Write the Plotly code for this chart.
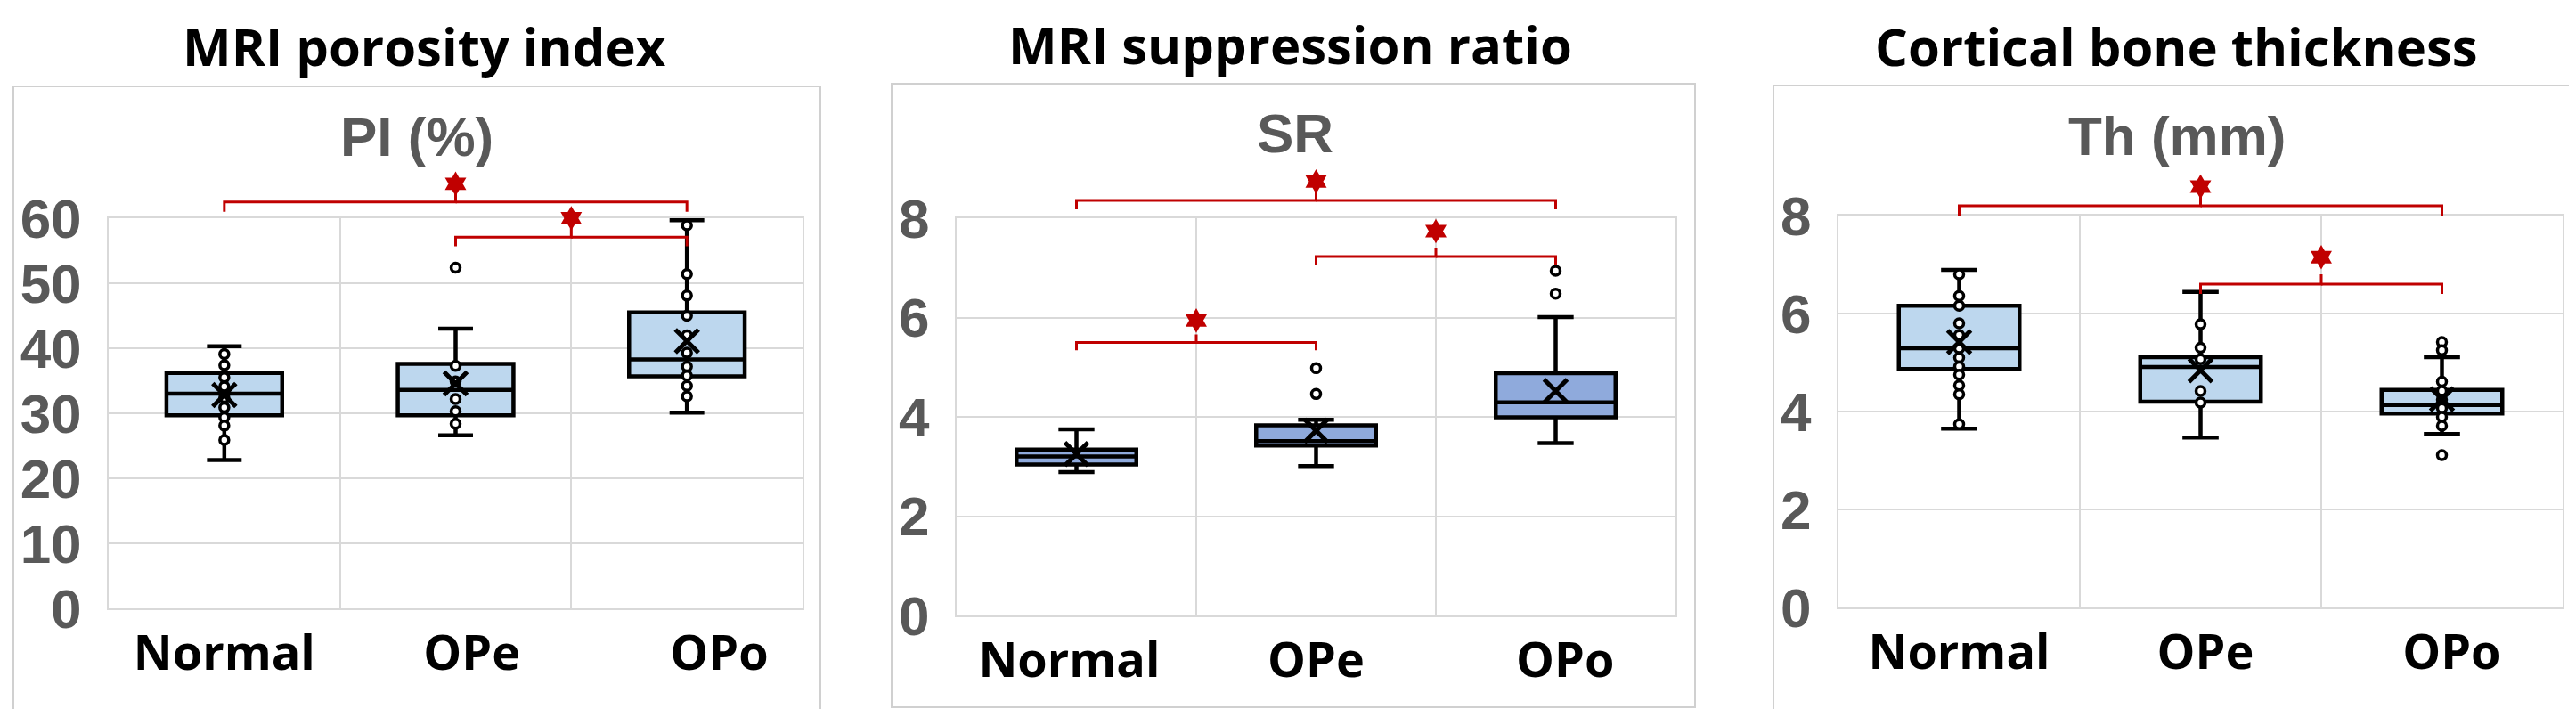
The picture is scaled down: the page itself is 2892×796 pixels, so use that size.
import plotly.graph_objects as go

W, H = 2892, 796

categories = ["Normal", "OPe", "OPo"]
titles = ["MRI porosity index", "MRI suppression ratio", "Cortical bone thickness"]
subtitles = ["PI (%)", "SR", "Th (mm)"]

# ---------------- Panel 1 : PI (%) ----------------
pi_ticks = [0, 10, 20, 30, 40, 50, 60]
pi_low = [22.8, 26.6, 30.1]
pi_q1 = [29.7, 29.7, 35.7]
pi_median = [33.0, 33.6, 38.3]
pi_q3 = [36.2, 37.6, 45.5]
pi_high = [40.3, 43.0, 59.7]
pi_mean = [32.8, 34.6, 41.1]
pi_points_normal = [39.1, 37.4, 35.5, 34.1, 32.4, 30.9, 29.4, 28.1, 25.9]
pi_points_ope = [52.4, 37.3, 34.9, 32.2, 30.3, 28.4]
pi_points_opo = [58.9, 51.4, 48.1, 45.0, 42.0, 39.3, 37.2, 35.8, 34.2, 32.6]
pi_bracket_from = [0, 1]
pi_bracket_to = [2, 2]
pi_bracket_y = [62.5, 57.1]
pi_bracket_drop = [1.5, 1.4]
pi_star_y = [65.3, 60.0]

# ---------------- Panel 2 : SR ----------------
sr_ticks = [0, 2, 4, 6, 8]
sr_low = [2.89, 3.01, 3.47]
sr_q1 = [3.04, 3.42, 3.99]
sr_median = [3.20, 3.51, 4.29]
sr_q3 = [3.34, 3.83, 4.88]
sr_high = [3.75, 3.94, 6.01]
sr_mean = [3.25, 3.72, 4.52]
sr_points_normal = []
sr_points_ope = [4.98, 4.46]
sr_points_opo = [6.94, 6.48]
sr_bracket_from = [0, 1, 0]
sr_bracket_to = [2, 2, 1]
sr_bracket_y = [8.36, 7.23, 5.50]
sr_bracket_drop = [0.18, 0.18, 0.16]
sr_star_y = [8.74, 7.74, 5.94]

# ---------------- Panel 3 : Th (mm) ----------------
th_ticks = [0, 2, 4, 6, 8]
th_low = [3.65, 3.47, 3.54]
th_q1 = [4.87, 4.20, 3.96]
th_median = [5.29, 4.91, 4.13]
th_q3 = [6.16, 5.11, 4.44]
th_high = [6.89, 6.44, 5.11]
th_mean = [5.42, 4.84, 4.25]
th_points_normal = [6.80, 6.36, 6.16, 5.80, 5.56, 5.29, 5.10, 4.92, 4.75, 4.53, 4.35, 3.74]
th_points_ope = [5.78, 5.30, 5.07, 4.42, 4.18]
th_points_opo = [5.42, 5.25, 4.61, 4.42, 4.24, 4.07, 3.89, 3.71, 3.11]
th_bracket_from = [0, 1]
th_bracket_to = [2, 2]
th_bracket_y = [8.20, 6.60]
th_bracket_drop = [0.2, 0.2]
th_star_y = [8.59, 7.15]

panels = [
    dict(ticks=pi_ticks, low=pi_low, q1=pi_q1, med=pi_median, q3=pi_q3, high=pi_high, mean=pi_mean,
         pts=[pi_points_normal, pi_points_ope, pi_points_opo],
         bf=pi_bracket_from, bt=pi_bracket_to, by=pi_bracket_y, bd=pi_bracket_drop, sy=pi_star_y),
    dict(ticks=sr_ticks, low=sr_low, q1=sr_q1, med=sr_median, q3=sr_q3, high=sr_high, mean=sr_mean,
         pts=[sr_points_normal, sr_points_ope, sr_points_opo],
         bf=sr_bracket_from, bt=sr_bracket_to, by=sr_bracket_y, bd=sr_bracket_drop, sy=sr_star_y),
    dict(ticks=th_ticks, low=th_low, q1=th_q1, med=th_median, q3=th_q3, high=th_high, mean=th_mean,
         pts=[th_points_normal, th_points_ope, th_points_opo],
         bf=th_bracket_from, bt=th_bracket_to, by=th_bracket_y, bd=th_bracket_drop, sy=th_star_y),
]

# ---------------- layout geometry (pixels) ----------------
plot_px = [(114, 893, 237, 675), (1066, 1873, 237, 683), (2056, 2869, 234, 674)]
frame_px = [(7, 89, 913, 793), (993, 86, 1895, 786), (1983, 88, 2889, 791)]
title_px = [(468, 2), (1440, 0), (2435, 2)]
subtitle_px = [(460, 146), (1446, 142), (2436, 144)]
label_pos = [[0, 1.07, 2.14], [-0.03, 1.0, 2.04], [0, 1.02, 2.04]]
box_fill = ["#BDD7EE", "#8FAADC", "#BDD7EE"]
overlay_top_px = 150

RED = "#C00000"
GRID = "#D9D9D9"
TICK_GRAY = "#595959"

fig = go.Figure()
layout = dict(
    width=W, height=H, template="none", showlegend=False,
    margin=dict(l=0, r=0, t=0, b=0),
    paper_bgcolor="white", plot_bgcolor="rgba(0,0,0,0)",
    shapes=[], annotations=[],
)

for i, p in enumerate(panels):
    x0, x1, ytop, ybot = plot_px[i]
    dx = [x0 / W, x1 / W]
    dy = [1 - ybot / H, 1 - ytop / H]
    ymax = p["ticks"][-1]
    n = i + 1
    m = i + 4
    xa, ya = ("x" if n == 1 else f"x{n}"), ("y" if n == 1 else f"y{n}")
    xo, yo = f"x{m}", f"y{m}"

    layout[f"xaxis{'' if n == 1 else n}"] = dict(
        domain=dx, range=[-0.5, 2.5], anchor=ya,
        tickmode="array", tickvals=label_pos[i], ticktext=categories,
        showgrid=False, zeroline=False, ticks="",
        showline=True, mirror=True, linecolor=GRID, linewidth=2,
        tickfont=dict(family="Open Sans", size=54, color="black", weight="bold"),
        ticklabelstandoff=2,
        minor=dict(tickmode="array", tickvals=[0.5, 1.5], showgrid=True,
                   gridcolor=GRID, gridwidth=2, ticks=""),
        fixedrange=True,
    )
    layout[f"yaxis{'' if n == 1 else n}"] = dict(
        domain=dy, range=[0, ymax], anchor=xa,
        tickmode="array", tickvals=p["ticks"],
        showgrid=True, gridcolor=GRID, gridwidth=2, zeroline=False, ticks="",
        showline=True, mirror=True, linecolor=GRID, linewidth=2,
        tickfont=dict(family="Liberation Sans", size=62, color=TICK_GRAY, weight="bold"),
        ticklabelstandoff=16,
        fixedrange=True,
    )
    # overlay axes for significance brackets (extend above the plot area, same scale)
    dtop = 1 - overlay_top_px / H
    orange = ymax * (dtop - dy[0]) / (dy[1] - dy[0])
    layout[f"xaxis{m}"] = dict(domain=dx, range=[-0.5, 2.5], anchor=yo, visible=False, fixedrange=True)
    layout[f"yaxis{m}"] = dict(domain=[dy[0], dtop], range=[0, orange], anchor=xo, visible=False, fixedrange=True)

    # boxes
    fig.add_trace(go.Box(
        x=[0, 1, 2], q1=p["q1"], median=p["med"], q3=p["q3"],
        lowerfence=p["low"], upperfence=p["high"],
        width=0.5, whiskerwidth=0.3, boxpoints=False,
        fillcolor=box_fill[i], line=dict(color="black", width=4.5),
        xaxis=xa, yaxis=ya, hoverinfo="skip",
    ))
    # data points
    px_, py_ = [], []
    for c, vals in enumerate(p["pts"]):
        px_ += [c] * len(vals)
        py_ += vals
    if py_:
        fig.add_trace(go.Scatter(
            x=px_, y=py_, mode="markers", xaxis=xa, yaxis=ya,
            marker=dict(symbol="circle", size=10, color="white", line=dict(color="black", width=3.5)),
            hoverinfo="skip",
        ))
    # mean markers
    fig.add_trace(go.Scatter(
        x=[0, 1, 2], y=p["mean"], mode="markers", xaxis=xa, yaxis=ya,
        marker=dict(symbol="x-thin", size=26, color="black", line=dict(color="black", width=5)),
        hoverinfo="skip",
    ))
    # brackets
    for a, b, yb, d, ys in zip(p["bf"], p["bt"], p["by"], p["bd"], p["sy"]):
        mid = (a + b) / 2
        fig.add_trace(go.Scatter(
            x=[a, a, mid, mid, None, mid, b, b],
            y=[yb - d, yb, yb, yb + d, None, yb, yb, yb - d],
            mode="lines", line=dict(color=RED, width=3),
            xaxis=xo, yaxis=yo, hoverinfo="skip", cliponaxis=False,
        ))
        fig.add_trace(go.Scatter(
            x=[mid], y=[ys], mode="markers", xaxis=xo, yaxis=yo,
            marker=dict(symbol="hexagram", size=21, color=RED),
            hoverinfo="skip", cliponaxis=False,
        ))

    # frame
    fx0, fy0, fx1, fy1 = frame_px[i]
    layout["shapes"].append(dict(type="rect", xref="paper", yref="paper",
                                 x0=fx0 / W, x1=fx1 / W, y0=1 - fy1 / H, y1=1 - fy0 / H,
                                 line=dict(color="#D0D0D0", width=2), layer="below"))
    # titles
    tx, ty = title_px[i]
    layout["annotations"].append(dict(text=titles[i], xref="paper", yref="paper",
                                      x=tx / W, y=1 - ty / H, xanchor="center", yanchor="top",
                                      showarrow=False,
                                      font=dict(family="Open Sans", size=58, color="black", weight="bold")))
    sx, sy = subtitle_px[i]
    layout["annotations"].append(dict(text=subtitles[i], xref="paper", yref="paper",
                                      x=sx / W, y=1 - sy / H, xanchor="center", yanchor="middle",
                                      showarrow=False,
                                      font=dict(family="Liberation Sans", size=62, color=TICK_GRAY, weight="bold")))

fig.update_layout(**layout)
fig.write_html("out.html")
